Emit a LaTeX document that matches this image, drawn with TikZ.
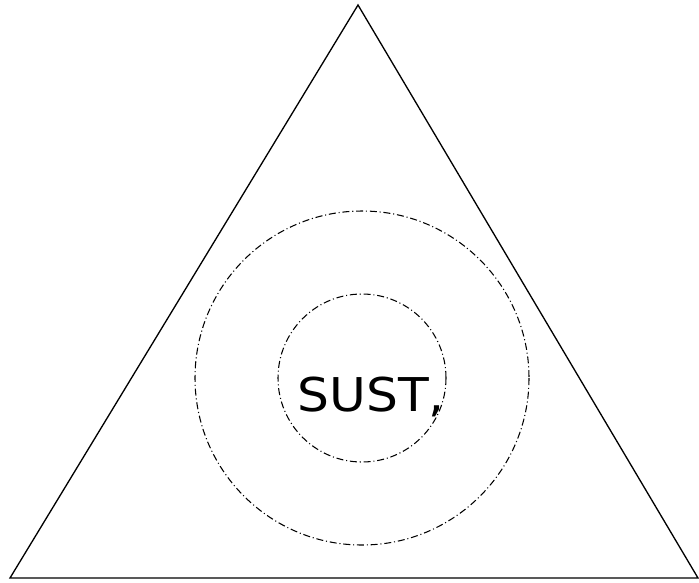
\documentclass[tikz,border=0pt]{standalone}
\usepackage{fontspec}
\setmainfont{DejaVu Sans}
\usepackage{tikz}
\usetikzlibrary{positioning, calc}

\begin{document}
\begin{tikzpicture}[
  x=0.02cm, y=-0.02cm,
  edge/.style={
    line width=0.75pt,
    line join=miter
  },
  ring/.style={
    line width=0.6pt,
    dash pattern=on 4pt off 1.6pt on 0.6pt off 1.6pt
  },
  label/.style={
    inner sep=0pt,
    xscale=1.08,
    font=\fontsize{26.5}{30}\selectfont
  }
]
\useasboundingbox (0,0) rectangle (699,582);

% =========================================================
% Outer triangle
% =========================================================
\coordinate (top)   at (358,5);
\coordinate (left)  at (10,578);
\coordinate (right) at (698,578);

\draw[edge] (top) -- (left) -- (right) -- cycle;

% =========================================================
% Dash-dotted rings
% =========================================================
\coordinate (ctr) at (362,378);

\draw[ring] (ctr) circle[radius=167];
\draw[ring] (ctr) circle[radius=84];

% =========================================================
% Centre label
% =========================================================
\node[label, anchor=base west] (sust) at (297,411) {SUST,};

\end{tikzpicture}
\end{document}
